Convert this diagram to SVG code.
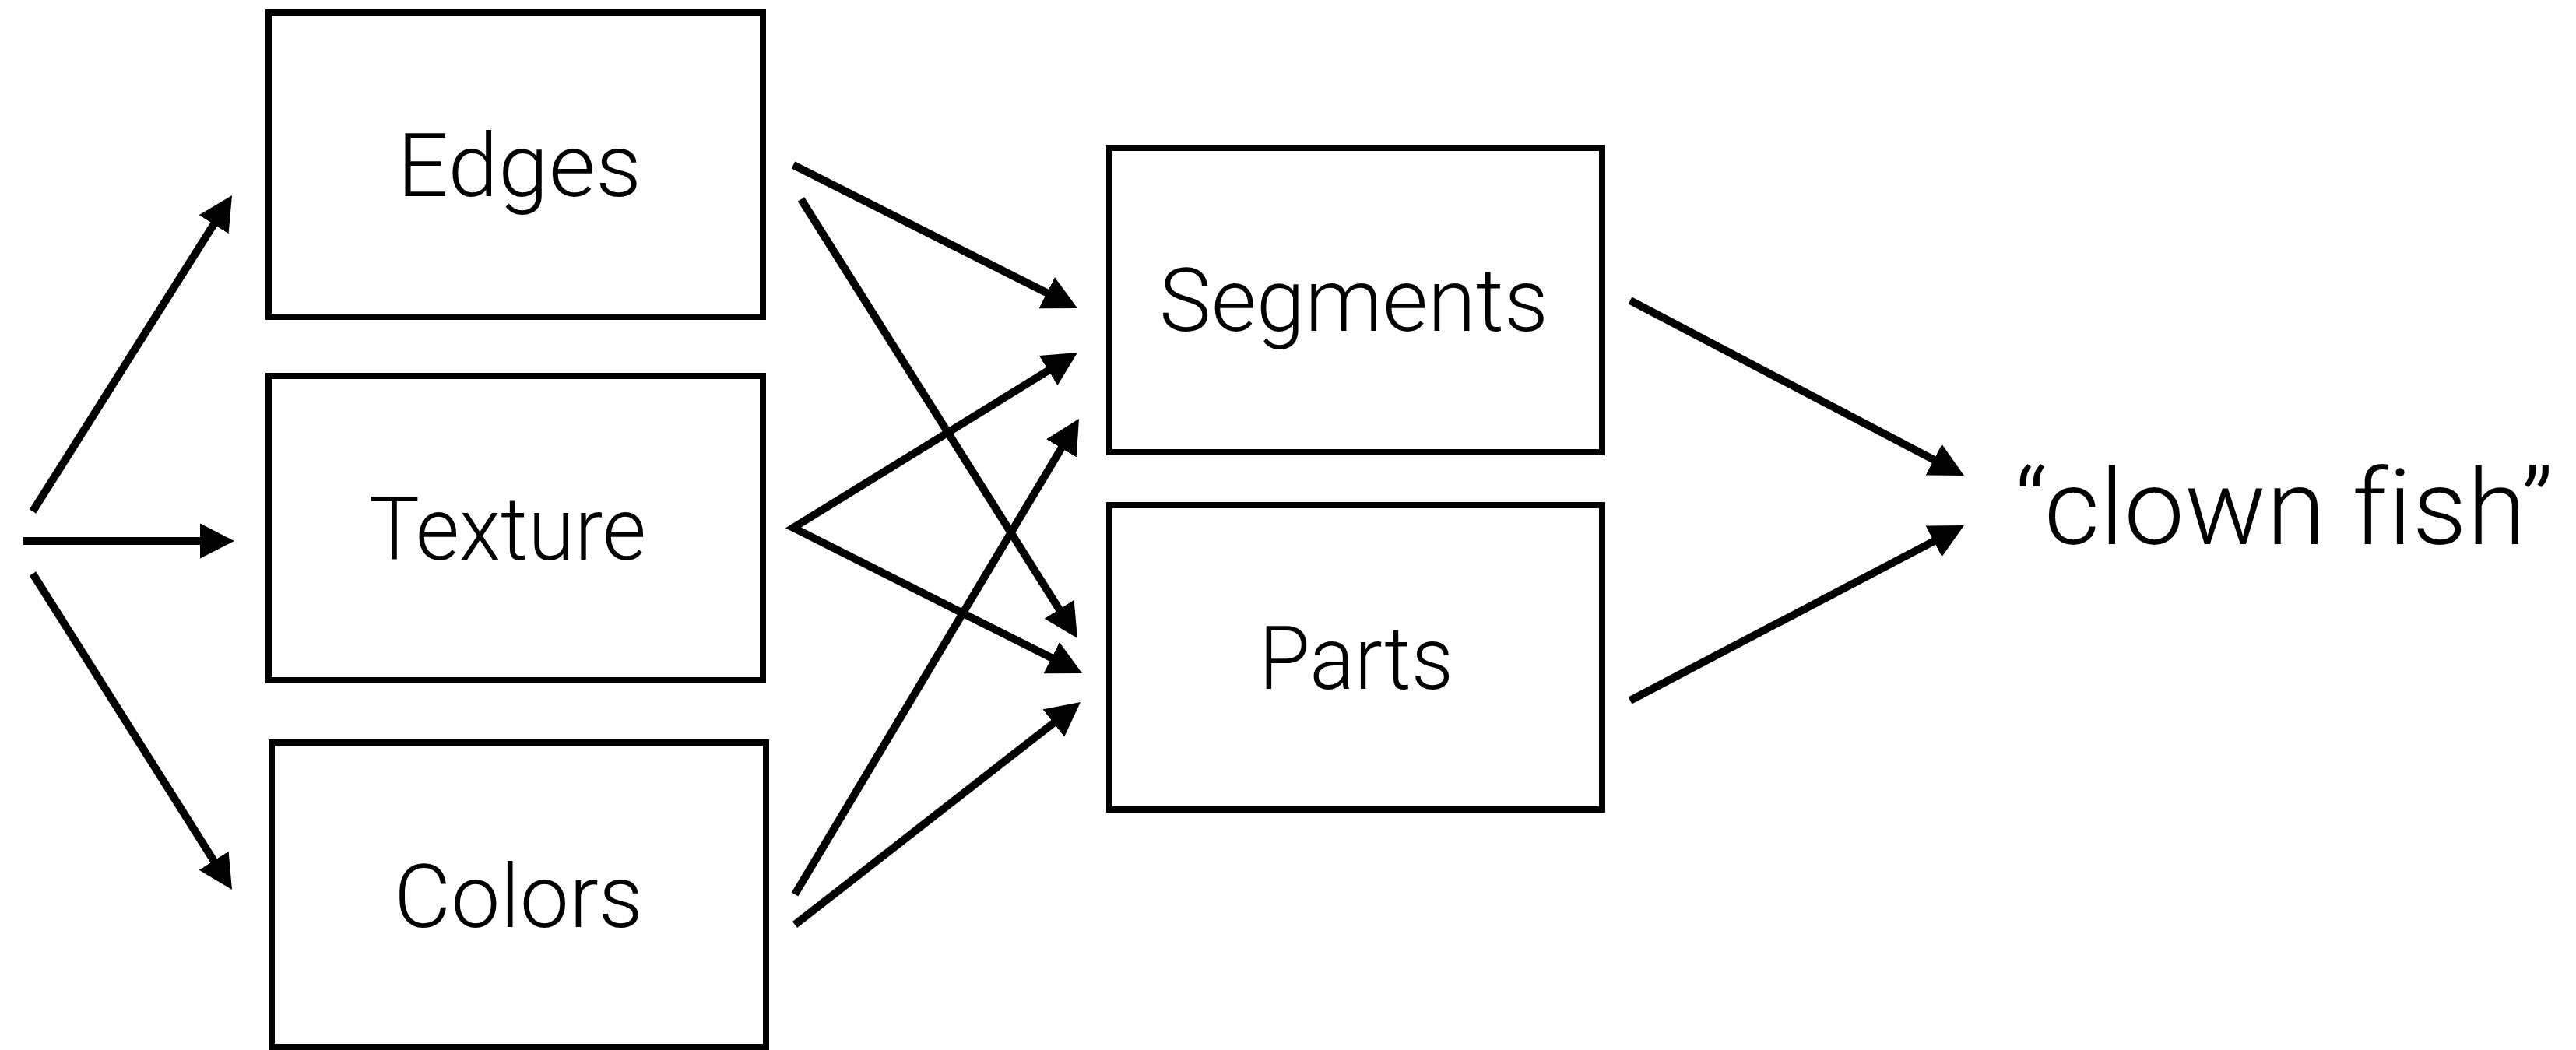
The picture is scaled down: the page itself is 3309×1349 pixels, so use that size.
<svg xmlns="http://www.w3.org/2000/svg" width="3309" height="1349" viewBox="0 0 3309 1349">
  <style>
    .box rect { fill: #ffffff; stroke: #000000; stroke-width: 8; }
    .box text { font-family: Roboto, "Liberation Sans", sans-serif; font-weight: 300; font-size: 113px; fill: #000000; text-anchor: middle; font-variant-ligatures: none; }
    .out { font-family: Roboto, "Liberation Sans", sans-serif; font-weight: 300; font-size: 136px; fill: #000000; font-variant-ligatures: none; }
    .edge { fill: none; stroke: #000000; stroke-width: 10; stroke-linejoin: miter; marker-end: url(#head); }
  </style>
  <defs>
    <marker id="head" markerUnits="userSpaceOnUse" markerWidth="44" markerHeight="45" refX="14" refY="22.5" orient="auto">
      <path d="M0,0 L44,22.5 L0,45 Z" fill="#000000"/>
    </marker>
    <marker id="headStart" markerUnits="userSpaceOnUse" markerWidth="44" markerHeight="45" refX="14" refY="22.5" orient="auto-start-reverse">
      <path d="M0,0 L44,22.5 L0,45 Z" fill="#000000"/>
    </marker>
  </defs>

  <!-- feature detectors -->
  <g id="edges" class="box">
    <rect x="345" y="16" width="635" height="391"/>
    <text x="667" y="252" textLength="314" lengthAdjust="spacingAndGlyphs">Edges</text>
  </g>
  <g id="texture" class="box">
    <rect x="345" y="483" width="635" height="391"/>
    <text x="652" y="719" textLength="356" lengthAdjust="spacingAndGlyphs">Texture</text>
  </g>
  <g id="colors" class="box">
    <rect x="349" y="954" width="635" height="391"/>
    <text x="666" y="1191" textLength="320" lengthAdjust="spacingAndGlyphs">Colors</text>
  </g>

  <!-- mid-level groupings -->
  <g id="segments" class="box">
    <rect x="1425" y="190" width="633" height="391"/>
    <text x="1739" y="425" textLength="500" lengthAdjust="spacingAndGlyphs">Segments</text>
  </g>
  <g id="parts" class="box">
    <rect x="1425" y="649" width="633" height="391"/>
    <text x="1742" y="885" textLength="250" lengthAdjust="spacingAndGlyphs">Parts</text>
  </g>

  <!-- final label -->
  <g id="label">
    <text class="out" x="2588" y="699" textLength="692" lengthAdjust="spacingAndGlyphs">“clown fish”</text>
  </g>

  <g id="connectors">
    <!-- input fan-out -->
    <line class="edge" x1="42" y1="657" x2="282" y2="276.4"/>
    <line class="edge" x1="30" y1="695" x2="271" y2="695"/>
    <line class="edge" x1="42" y1="737" x2="282" y2="1117.6"/>
    <!-- edges -> segments / parts -->
    <line class="edge" x1="1019" y1="212" x2="1357.2" y2="382.5"/>
    <line class="edge" x1="1029" y1="256" x2="1368" y2="794.6"/>
    <!-- texture -> segments and parts, sharing one start point -->
    <path class="edge" d="M1358.5,468.7 L1019,678 L1363.2,851.5" marker-start="url(#headStart)"/>
    <!-- colors -> segments / parts -->
    <line class="edge" x1="1021" y1="1149" x2="1370.6" y2="563.8"/>
    <line class="edge" x1="1021" y1="1188" x2="1364.3" y2="920.4"/>
    <!-- segments / parts -> label -->
    <line class="edge" x1="2094" y1="386" x2="2496.4" y2="597.1"/>
    <line class="edge" x1="2094" y1="900" x2="2496.4" y2="688.9"/>
  </g>
</svg>
